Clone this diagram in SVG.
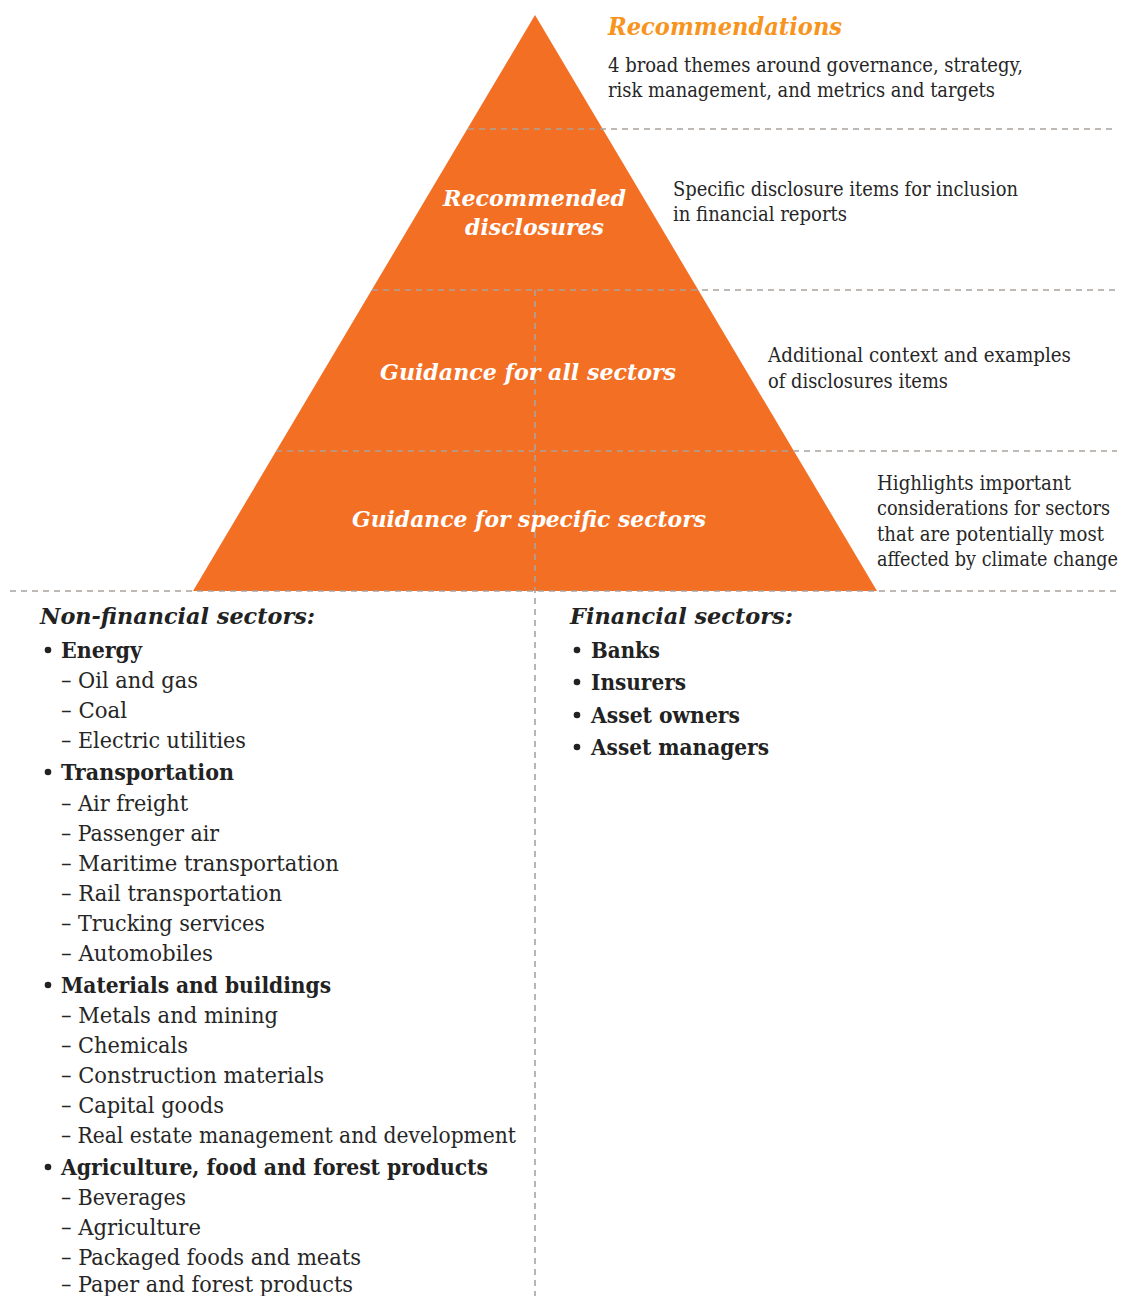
<svg xmlns="http://www.w3.org/2000/svg" width="1122" height="1296" viewBox="0 0 1122 1296">
<style>
.dash{stroke:#aaa39d;stroke-width:1.6;stroke-dasharray:6 5;fill:none}
.desc{font-family:"DejaVu Serif","Liberation Serif",serif;font-size:20px;fill:#262626}
.lbl{font-family:"DejaVu Serif","Liberation Serif",serif;font-size:23px;font-weight:bold;font-style:italic;fill:#ffffff}
.head{font-family:"DejaVu Serif","Liberation Serif",serif;font-size:23px;font-weight:bold;font-style:italic;fill:#222222}
.cat{font-family:"DejaVu Serif","Liberation Serif",serif;font-size:22px;font-weight:bold;fill:#222222}
.sub{font-family:"DejaVu Serif","Liberation Serif",serif;font-size:23px;fill:#262626}
.bul{fill:#222222}
</style>
<rect width="1122" height="1296" fill="#ffffff"/>
<g id="pyramid">
<polygon points="535,15 877,591 193,591" fill="#f36f24"/>
</g>
<g id="connectors">
<line class="dash" x1="468" y1="129" x2="1117" y2="129"/>
<line class="dash" x1="372" y1="290" x2="1117" y2="290"/>
<line class="dash" x1="276" y1="451" x2="1117" y2="451"/>
<line class="dash" x1="10" y1="591" x2="1117" y2="591"/>
<line class="dash" x1="535" y1="290" x2="535" y2="1296"/>
</g>
<g id="recommendations">
<text x="608" y="35" font-family="DejaVu Serif, Liberation Serif, serif" font-size="24" font-weight="bold" font-style="italic" fill="#f7941e" textLength="234" lengthAdjust="spacingAndGlyphs">Recommendations</text>
<text class="desc" x="608" y="72" textLength="415" lengthAdjust="spacingAndGlyphs">4 broad themes around governance, strategy,</text>
<text class="desc" x="608" y="97" textLength="387" lengthAdjust="spacingAndGlyphs">risk management, and metrics and targets</text>
</g>
<g id="recommended-disclosures">
<text class="lbl" x="443" y="206" textLength="183" lengthAdjust="spacingAndGlyphs">Recommended</text>
<text class="lbl" x="465" y="235" textLength="139" lengthAdjust="spacingAndGlyphs">disclosures</text>
<text class="desc" x="673" y="196" textLength="345" lengthAdjust="spacingAndGlyphs">Specific disclosure items for inclusion</text>
<text class="desc" x="673" y="221" textLength="174" lengthAdjust="spacingAndGlyphs">in financial reports</text>
</g>
<g id="guidance-all">
<text class="lbl" x="380" y="380" textLength="296" lengthAdjust="spacingAndGlyphs">Guidance for all sectors</text>
<text class="desc" x="768" y="362" textLength="303" lengthAdjust="spacingAndGlyphs">Additional context and examples</text>
<text class="desc" x="768" y="388" textLength="180" lengthAdjust="spacingAndGlyphs">of disclosures items</text>
</g>
<g id="guidance-specific">
<text class="lbl" x="352" y="527" textLength="354" lengthAdjust="spacingAndGlyphs">Guidance for specific sectors</text>
<text class="desc" x="877" y="490" textLength="194" lengthAdjust="spacingAndGlyphs">Highlights important</text>
<text class="desc" x="877" y="515" textLength="233" lengthAdjust="spacingAndGlyphs">considerations for sectors</text>
<text class="desc" x="877" y="541" textLength="227" lengthAdjust="spacingAndGlyphs">that are potentially most</text>
<text class="desc" x="877" y="566" textLength="241" lengthAdjust="spacingAndGlyphs">affected by climate change</text>
</g>
<g id="non-financial">
<text class="head" x="40" y="624" textLength="275" lengthAdjust="spacingAndGlyphs">Non-financial sectors:</text>
<circle class="bul" cx="48" cy="650" r="3.3"/>
<text class="cat" x="61" y="658" textLength="81" lengthAdjust="spacingAndGlyphs">Energy</text>
<text class="sub" x="61" y="688" textLength="137" lengthAdjust="spacingAndGlyphs">– Oil and gas</text>
<text class="sub" x="61" y="718" textLength="66" lengthAdjust="spacingAndGlyphs">– Coal</text>
<text class="sub" x="61" y="748" textLength="185" lengthAdjust="spacingAndGlyphs">– Electric utilities</text>
<circle class="bul" cx="48" cy="772" r="3.3"/>
<text class="cat" x="61" y="780" textLength="173" lengthAdjust="spacingAndGlyphs">Transportation</text>
<text class="sub" x="61" y="811" textLength="127" lengthAdjust="spacingAndGlyphs">– Air freight</text>
<text class="sub" x="61" y="841" textLength="158" lengthAdjust="spacingAndGlyphs">– Passenger air</text>
<text class="sub" x="61" y="871" textLength="278" lengthAdjust="spacingAndGlyphs">– Maritime transportation</text>
<text class="sub" x="61" y="901" textLength="221" lengthAdjust="spacingAndGlyphs">– Rail transportation</text>
<text class="sub" x="61" y="931" textLength="204" lengthAdjust="spacingAndGlyphs">– Trucking services</text>
<text class="sub" x="61" y="961" textLength="152" lengthAdjust="spacingAndGlyphs">– Automobiles</text>
<circle class="bul" cx="48" cy="985" r="3.3"/>
<text class="cat" x="61" y="993" textLength="270" lengthAdjust="spacingAndGlyphs">Materials and buildings</text>
<text class="sub" x="61" y="1023" textLength="217" lengthAdjust="spacingAndGlyphs">– Metals and mining</text>
<text class="sub" x="61" y="1053" textLength="127" lengthAdjust="spacingAndGlyphs">– Chemicals</text>
<text class="sub" x="61" y="1083" textLength="263" lengthAdjust="spacingAndGlyphs">– Construction materials</text>
<text class="sub" x="61" y="1113" textLength="163" lengthAdjust="spacingAndGlyphs">– Capital goods</text>
<text class="sub" x="61" y="1143" textLength="455" lengthAdjust="spacingAndGlyphs">– Real estate management and development</text>
<circle class="bul" cx="48" cy="1167" r="3.3"/>
<text class="cat" x="61" y="1175" textLength="427" lengthAdjust="spacingAndGlyphs">Agriculture, food and forest products</text>
<text class="sub" x="61" y="1205" textLength="125" lengthAdjust="spacingAndGlyphs">– Beverages</text>
<text class="sub" x="61" y="1235" textLength="140" lengthAdjust="spacingAndGlyphs">– Agriculture</text>
<text class="sub" x="61" y="1265" textLength="300" lengthAdjust="spacingAndGlyphs">– Packaged foods and meats</text>
<text class="sub" x="61" y="1292" textLength="292" lengthAdjust="spacingAndGlyphs">– Paper and forest products</text>
</g>
<g id="financial">
<text class="head" x="570" y="624" textLength="223" lengthAdjust="spacingAndGlyphs">Financial sectors:</text>
<circle class="bul" cx="577" cy="650" r="3.3"/>
<text class="cat" x="591" y="658" textLength="69" lengthAdjust="spacingAndGlyphs">Banks</text>
<circle class="bul" cx="577" cy="682" r="3.3"/>
<text class="cat" x="591" y="690" textLength="95" lengthAdjust="spacingAndGlyphs">Insurers</text>
<circle class="bul" cx="577" cy="715" r="3.3"/>
<text class="cat" x="591" y="723" textLength="149" lengthAdjust="spacingAndGlyphs">Asset owners</text>
<circle class="bul" cx="577" cy="747" r="3.3"/>
<text class="cat" x="591" y="755" textLength="178" lengthAdjust="spacingAndGlyphs">Asset managers</text>
</g>
</svg>
